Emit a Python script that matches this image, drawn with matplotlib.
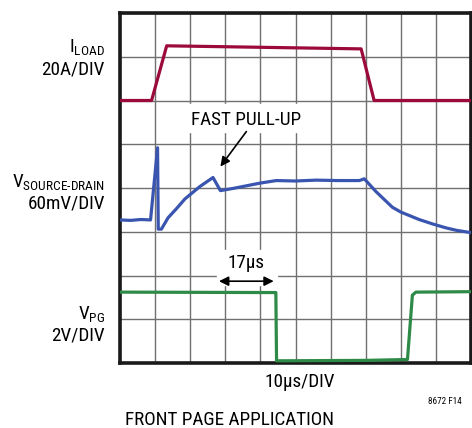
import matplotlib
matplotlib.use('Agg')
import matplotlib.pyplot as plt
from matplotlib import font_manager as fm
from matplotlib.patches import Rectangle

# pick a narrow sans if one is installed
names = {f.name for f in fm.fontManager.ttflist}
narrow = [n for n in ['Liberation Sans Narrow', 'Roboto Condensed', 'Open Sans Condensed',
                      'Noto Sans Condensed', 'DejaVu Sans Condensed'] if n in names]
if narrow:
    fam = narrow[0]
    fs = 13.8
    fs_small = 6.6
else:
    fam = 'Liberation Sans'
    fs = 11.3
    fs_small = 6.2

plt.rcParams['font.family'] = [fam, 'DejaVu Sans']
plt.rcParams['mathtext.fontset'] = 'custom'
plt.rcParams['mathtext.rm'] = fam
plt.rcParams['mathtext.it'] = fam

# time in us (10us/div), level in screen divisions from bottom
t_load = [0, 9.0, 13.3, 68.7, 72.4, 100]
i_load = [6.0, 6.0, 7.25, 7.18, 6.0, 6.0]

t_vsd = [0, 3, 6, 8.7, 10.7, 10.9, 11.8, 13.7, 16, 18.5, 22.7, 26.5, 28.6, 32.2,
         36, 39.8, 44.5, 50, 55.9, 62, 68.2, 69.6, 72.9, 77.6, 80, 85.2, 89,
         92.8, 96, 100]
v_sd = [3.27, 3.26, 3.28, 3.27, 4.92, 3.06, 3.06, 3.32, 3.52, 3.75, 4.03, 4.24,
        3.94, 3.99, 4.05, 4.11, 4.17, 4.16, 4.18, 4.17, 4.17, 4.21, 3.92, 3.56,
        3.45, 3.28, 3.18, 3.09, 3.03, 2.98]

t_pg = [0, 44.4, 44.6, 70, 81.9, 83.3, 84.3, 100]
v_pg = [1.62, 1.61, 0.05, 0.06, 0.08, 1.55, 1.62, 1.63]

fig = plt.figure(figsize=(4.72, 4.28), dpi=100)
ax = fig.add_axes([120/472, 65/428, 351/472, 350/428])
ax.set_xlim(0, 100)
ax.set_ylim(0, 8)
ax.set_xticks(range(0, 101, 10))
ax.set_yticks(range(0, 9))
ax.tick_params(length=0, labelbottom=False, labelleft=False)
ax.grid(True, color='#707070', linewidth=1.0)
ax.set_axisbelow(True)
for s in ax.spines.values():
    s.set_linewidth(2.6)
    s.set_color('#1a1a1a')

ax.plot(t_load, i_load, color='#9c0a3c', lw=2.3, solid_joinstyle='round', zorder=4)
ax.plot(t_vsd, v_sd, color='#3a55b0', lw=2.3, solid_joinstyle='round', zorder=4)
ax.plot(t_pg, v_pg, color='#2e8b47', lw=2.3, solid_joinstyle='round', zorder=4)

# white patches behind annotations
ax.add_patch(Rectangle((19.2, 5.27), 33.7, 0.65, color='white', zorder=2))
ax.add_patch(Rectangle((27.6, 1.78), 17, 0.8, color='white', zorder=2))

ax.text(35.9, 5.55, 'FAST PULL-UP', ha='center', va='center', fontsize=fs, zorder=5)
ax.annotate('', xy=(28.6, 4.49), xytext=(36.0, 5.29),
            arrowprops=dict(arrowstyle='-|>', color='black', lw=1.2,
                            mutation_scale=14, shrinkA=0, shrinkB=0), zorder=5)

ax.text(36.0, 2.29, '17µs', ha='center', va='center', fontsize=fs, zorder=5)
ax.annotate('', xy=(28.2, 1.87), xytext=(43.8, 1.87),
            arrowprops=dict(arrowstyle='<|-|>', color='black', lw=1.2,
                            mutation_scale=14, shrinkA=0, shrinkB=0), zorder=5)

# channel labels
lx = 105/472
fig.text(lx, 1 - 47/428, r'I$_{\rm LOAD}$', ha='right', va='center', fontsize=fs)
fig.text(lx, 1 - 70/428, '20A/DIV', ha='right', va='center', fontsize=fs)
fig.text(lx, 1 - 182/428, r'V$_{\rm SOURCE\text{-}DRAIN}$', ha='right', va='center', fontsize=fs)
fig.text(lx, 1 - 204/428, '60mV/DIV', ha='right', va='center', fontsize=fs)
fig.text(lx, 1 - 314/428, r'V$_{\rm PG}$', ha='right', va='center', fontsize=fs)
fig.text(lx, 1 - 336/428, '2V/DIV', ha='right', va='center', fontsize=fs)

fig.text(300/472, 1 - 382/428, '10µs/DIV', ha='center', va='center', fontsize=fs)
fig.text(462/472, 1 - 401/428, '8672 F14', ha='right', va='center', fontsize=fs_small)
fig.text(125/472, 1 - 420/428, 'FRONT PAGE APPLICATION', ha='left', va='center', fontsize=fs)

fig.savefig('out.png', dpi=100)
